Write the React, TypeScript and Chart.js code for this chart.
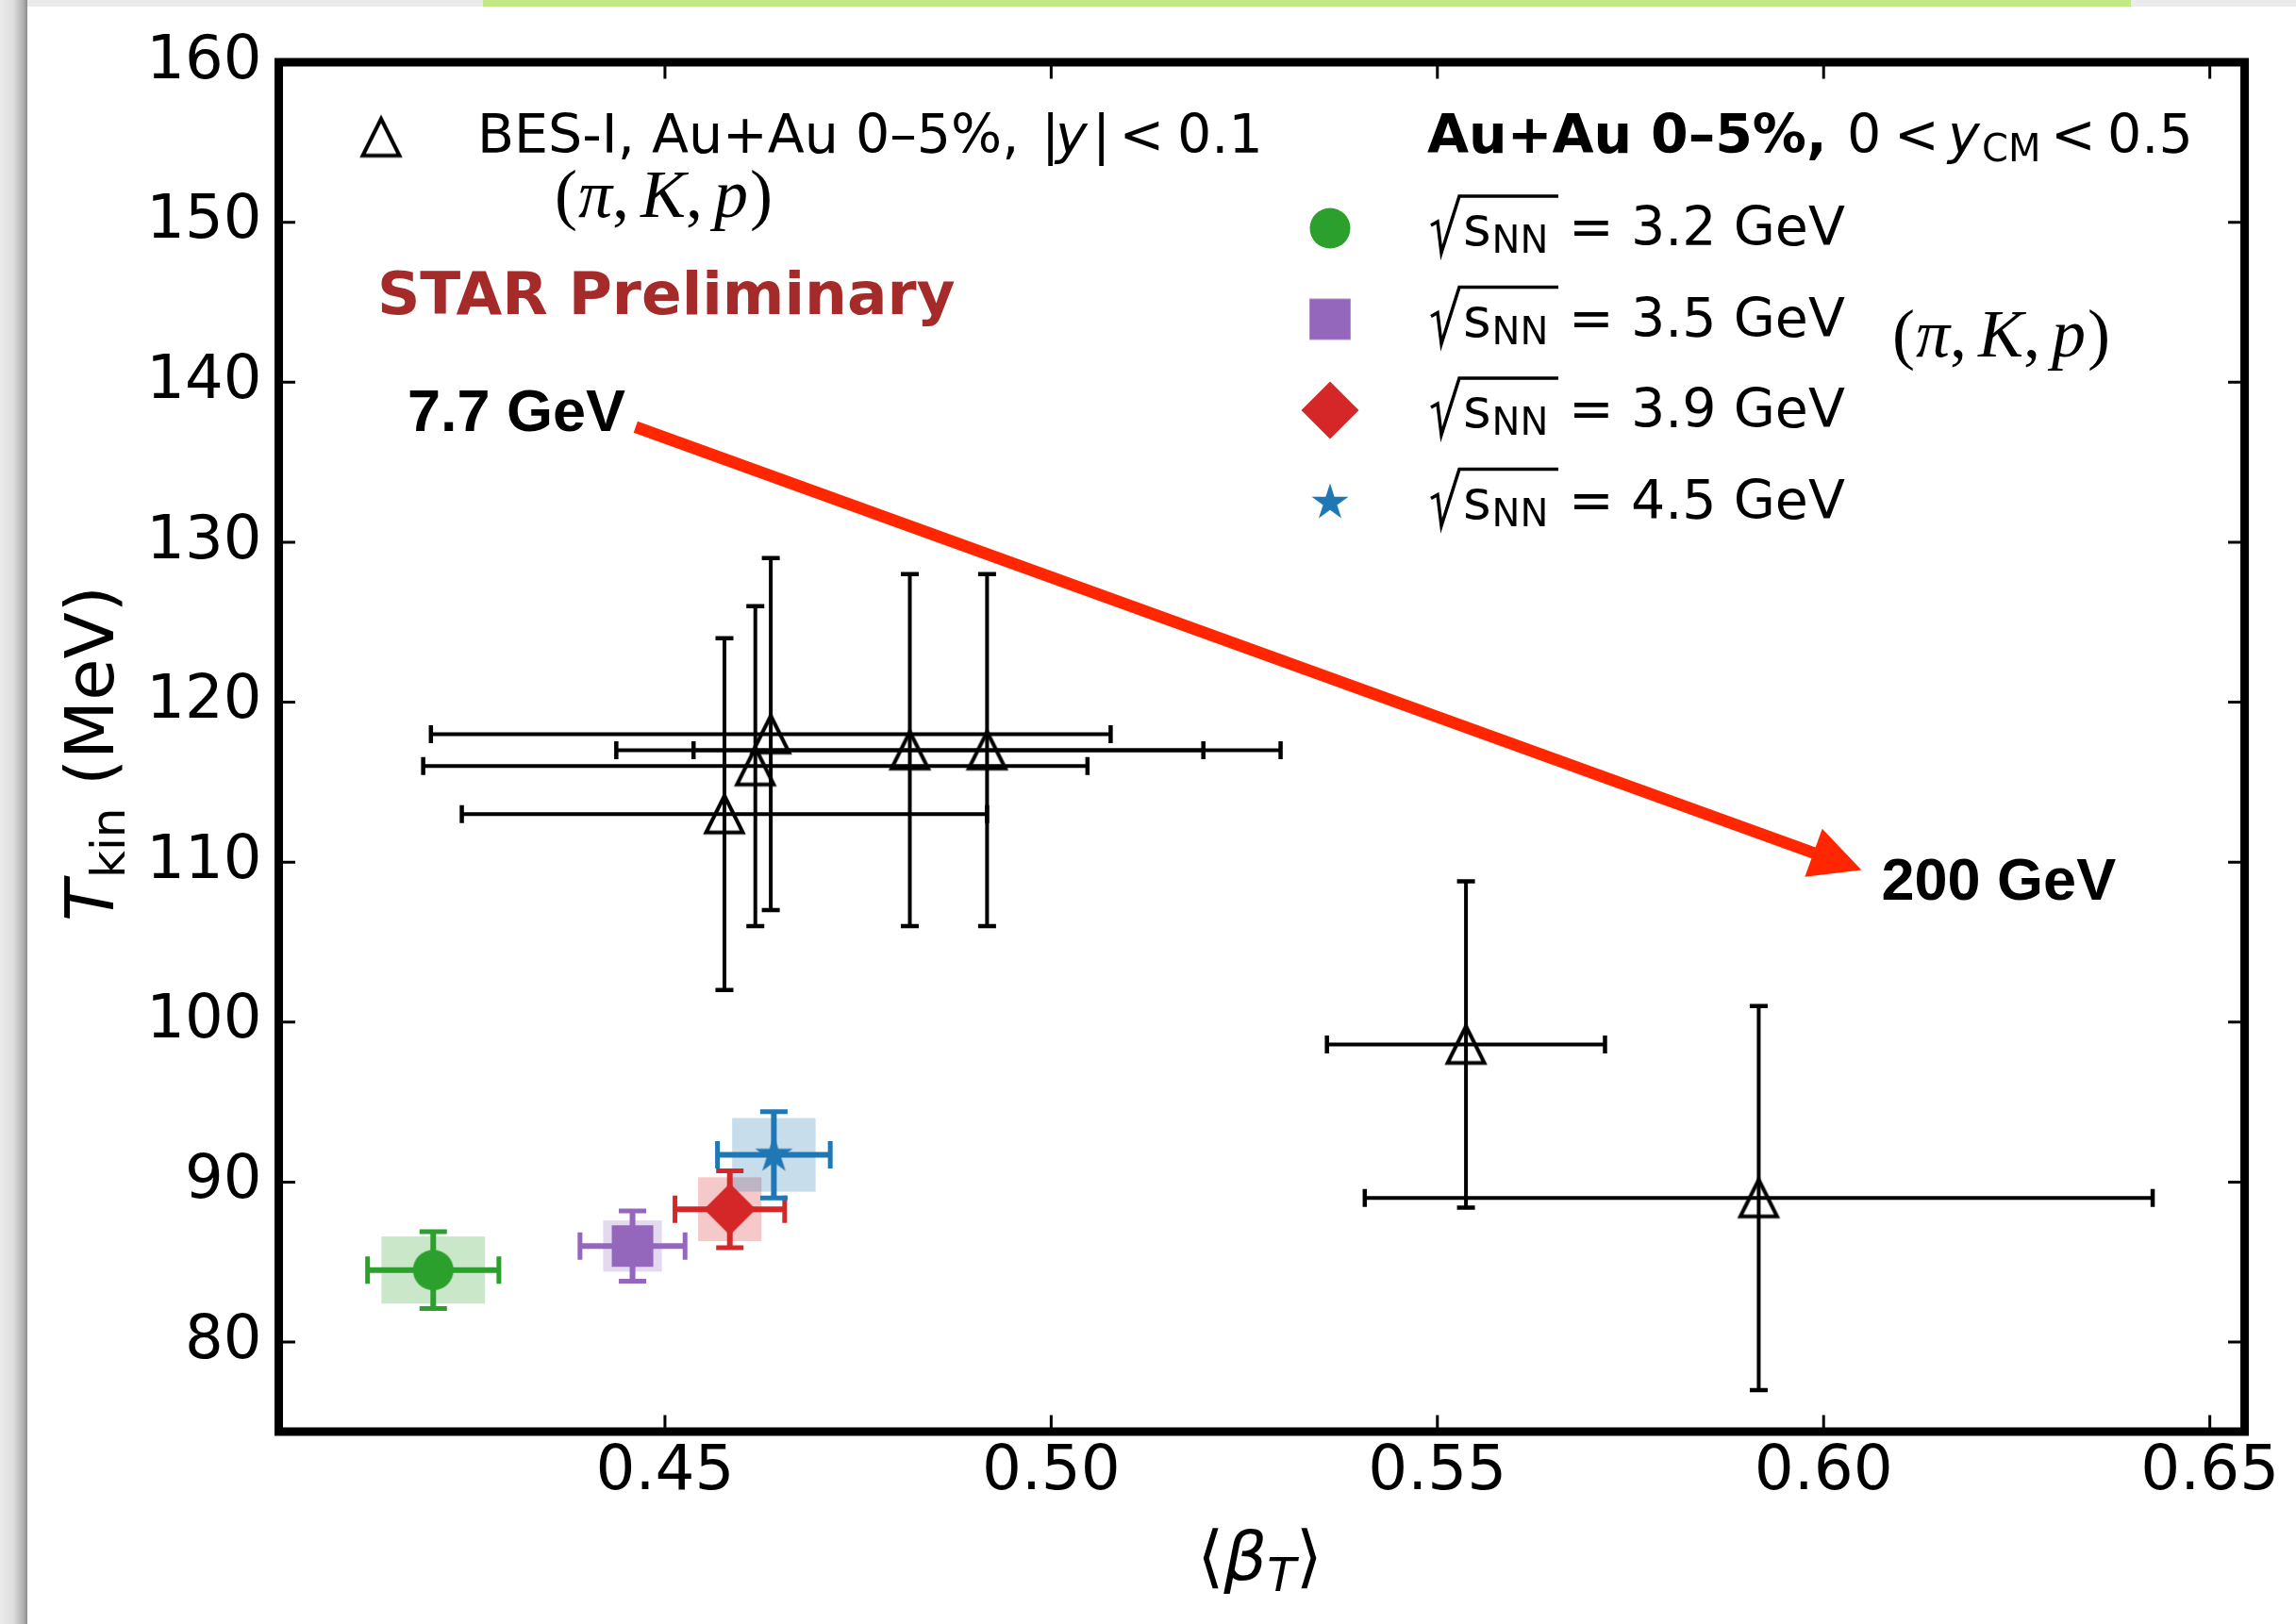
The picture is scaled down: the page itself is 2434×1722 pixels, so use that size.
import React, { useEffect, useRef } from 'react';
import { Chart, registerables } from 'chart.js';

Chart.register(...registerables);

// ---------------- data ----------------
const X_TICKS = [0.45, 0.5, 0.55, 0.6, 0.65];
const Y_TICKS = [80, 90, 100, 110, 120, 130, 140, 150, 160];
const X_MIN = 0.4;
const X_MAX = 0.6545;
const Y_MIN = 74.4;
const Y_MAX = 160;

// BES-I, Au+Au 0-5%, |y|<0.1 (open triangles)
const BES_BETA = [0.4577, 0.4617, 0.4637, 0.4817, 0.4917, 0.5537, 0.5916];
const BES_BETA_ERR = [0.034, 0.043, 0.044, 0.038, 0.038, 0.018, 0.051];
const BES_TKIN = [113.0, 116.0, 118.0, 117.0, 117.0, 98.6, 89.0];
const BES_TKIN_ERR = [11.0, 10.0, 11.0, 11.0, 11.0, 10.2, 12.0];

// FXT Au+Au 0-5%, 0<y_CM<0.5
const FXT_ENERGIES = ['3.2', '3.5', '3.9', '4.5'];
const FXT_BETA = [0.42, 0.4458, 0.4584, 0.4641];
const FXT_BETA_STAT = [0.0085, 0.0068, 0.0071, 0.0073];
const FXT_BETA_SYS = [0.0067, 0.0038, 0.0041, 0.0054];
const FXT_TKIN = [84.5, 86.0, 88.3, 91.7];
const FXT_TKIN_STAT = [2.4, 2.2, 2.4, 2.7];
const FXT_TKIN_SYS = [2.1, 1.6, 2.0, 2.3];

// arrow annotation (data coordinates)
const ARROW_FROM = [0.4462, 137.2];
const ARROW_TO = [0.6049, 109.5];

// ---------------- styles ----------------
const W = 2434;
const H = 1722;
const FXT_COLORS = ['#2ca02c', '#9467bd', '#d62728', '#1f77b4'];
const FXT_SHAPES = ['circle', 'square', 'diamond', 'star'];
const FXT_PLOT_SIZES = [43, 44, 55, 42];
const FXT_LEGEND_SIZES = [43, 43.5, 61, 41];
const SANS = "'DejaVu Sans'";
const SERIF = "'Liberation Serif'";

function rgba(hex: string, a: number) {
  const n = parseInt(hex.slice(1), 16);
  return `rgba(${n >> 16},${(n >> 8) & 255},${n & 255},${a})`;
}

function makeMarker(shape: string, size: number, color: string) {
  let S = Math.ceil(size + 16);
  if (S % 2) S += 1;
  const c = document.createElement('canvas');
  c.width = S;
  c.height = S;
  const g = c.getContext('2d')!;
  const cx = S / 2, cy = S / 2, r = size / 2;
  g.fillStyle = color;
  g.strokeStyle = color;
  g.beginPath();
  if (shape === 'circle') g.arc(cx, cy, r, 0, Math.PI * 2);
  else if (shape === 'square') g.rect(cx - r, cy - r, size, size);
  else if (shape === 'diamond') {
    g.moveTo(cx, cy - r); g.lineTo(cx + r, cy); g.lineTo(cx, cy + r); g.lineTo(cx - r, cy); g.closePath();
  } else if (shape === 'star') {
    for (let k = 0; k < 10; k++) {
      const rr = k % 2 === 0 ? r : r * 0.381966;
      const a = -Math.PI / 2 + (k * Math.PI) / 5;
      const px = cx + rr * Math.cos(a), py = cy + rr * Math.sin(a);
      if (k === 0) g.moveTo(px, py); else g.lineTo(px, py);
    }
    g.closePath();
  } else if (shape === 'triangle') {
    g.moveTo(cx, cy - r); g.lineTo(cx + r, cy + r); g.lineTo(cx - r, cy + r); g.closePath();
  }
  if (shape === 'triangle') {
    g.lineWidth = 4;
    g.lineJoin = 'miter';
    g.stroke();
  } else g.fill();
  return c;
}

function txt(ctx: CanvasRenderingContext2D, s: string, x: number, y: number, font: string, color = '#000') {
  ctx.font = font;
  ctx.fillStyle = color;
  ctx.textAlign = 'left';
  ctx.textBaseline = 'alphabetic';
  ctx.fillText(s, x, y);
}

function drawPiKp(ctx: CanvasRenderingContext2D, x: number, y: number) {
  const up = `72px ${SERIF}`, it = `italic 72px ${SERIF}`;
  const runs: [string, string, number][] = [
    ['(', up, 0], ['\u03c0', it, 1], [',', up, 0], ['K', it, 12], [',', up, 0], ['p', it, 12], [')', up, 2],
  ];
  let cx = x;
  ctx.textAlign = 'left';
  ctx.textBaseline = 'alphabetic';
  ctx.fillStyle = '#000';
  for (const [t, f, gap] of runs) {
    cx += gap;
    ctx.font = f;
    ctx.fillText(t, cx, y);
    cx += ctx.measureText(t).width;
  }
}

function drawErr(
  ctx: CanvasRenderingContext2D, cx: number, cy: number,
  xl: number, xr: number, yt: number, yb: number,
  color: string, lw: number, capLw: number, capHalf: number,
) {
  ctx.strokeStyle = color;
  ctx.lineCap = 'butt';
  ctx.lineWidth = lw;
  ctx.beginPath();
  ctx.moveTo(xl, cy); ctx.lineTo(xr, cy);
  ctx.moveTo(cx, yt); ctx.lineTo(cx, yb);
  ctx.stroke();
  ctx.lineWidth = capLw;
  ctx.beginPath();
  ctx.moveTo(xl, cy - capHalf); ctx.lineTo(xl, cy + capHalf);
  ctx.moveTo(xr, cy - capHalf); ctx.lineTo(xr, cy + capHalf);
  ctx.moveTo(cx - capHalf, yt); ctx.lineTo(cx + capHalf, yt);
  ctx.moveTo(cx - capHalf, yb); ctx.lineTo(cx + capHalf, yb);
  ctx.stroke();
}

const bgPlugin = {
  id: 'pageBackground',
  beforeDraw(chart: any) {
    const ctx = chart.ctx as CanvasRenderingContext2D;
    ctx.save();
    ctx.fillStyle = '#ffffff';
    ctx.fillRect(0, 0, W, H);
    ctx.fillStyle = '#ebebeb';
    ctx.fillRect(0, 0, W, 7);
    ctx.fillStyle = '#c3e986';
    ctx.fillRect(512, 0, 1747, 7);
    const g = ctx.createLinearGradient(0, 0, 29, 0);
    g.addColorStop(0, '#ececec');
    g.addColorStop(0.5, '#dcdcdc');
    g.addColorStop(0.85, '#b0b0b0');
    g.addColorStop(1, '#8c8c8c');
    ctx.fillStyle = g;
    ctx.fillRect(0, 0, 29, H);
    ctx.restore();
  },
};

const errPlugin = {
  id: 'errorBars',
  beforeDatasetsDraw(chart: any) {
    const ctx = chart.ctx as CanvasRenderingContext2D;
    const xs = chart.scales.x, ys = chart.scales.y;
    ctx.save();
    // systematic boxes
    FXT_BETA.forEach((b, i) => {
      const x0 = xs.getPixelForValue(b - FXT_BETA_SYS[i]);
      const x1 = xs.getPixelForValue(b + FXT_BETA_SYS[i]);
      const y0 = ys.getPixelForValue(FXT_TKIN[i] + FXT_TKIN_SYS[i]);
      const y1 = ys.getPixelForValue(FXT_TKIN[i] - FXT_TKIN_SYS[i]);
      ctx.fillStyle = rgba(FXT_COLORS[i], 0.25);
      ctx.fillRect(x0, y0, x1 - x0, y1 - y0);
    });
    // BES-I error bars
    BES_BETA.forEach((b, i) => {
      drawErr(
        ctx, xs.getPixelForValue(b), ys.getPixelForValue(BES_TKIN[i]),
        xs.getPixelForValue(b - BES_BETA_ERR[i]), xs.getPixelForValue(b + BES_BETA_ERR[i]),
        ys.getPixelForValue(BES_TKIN[i] + BES_TKIN_ERR[i]), ys.getPixelForValue(BES_TKIN[i] - BES_TKIN_ERR[i]),
        '#000', 4, 4.5, 9.5,
      );
    });
    // FXT stat error bars
    FXT_BETA.forEach((b, i) => {
      drawErr(
        ctx, xs.getPixelForValue(b), ys.getPixelForValue(FXT_TKIN[i]),
        xs.getPixelForValue(b - FXT_BETA_STAT[i]), xs.getPixelForValue(b + FXT_BETA_STAT[i]),
        ys.getPixelForValue(FXT_TKIN[i] + FXT_TKIN_STAT[i]), ys.getPixelForValue(FXT_TKIN[i] - FXT_TKIN_STAT[i]),
        FXT_COLORS[i], 6, 5, 14.5,
      );
    });
    ctx.restore();
  },
};

let legendMarkers: HTMLCanvasElement[] = [];
let legendTri: HTMLCanvasElement | null = null;

const decorPlugin = {
  id: 'decor',
  afterDraw(chart: any) {
    const ctx = chart.ctx as CanvasRenderingContext2D;
    const ca = chart.chartArea;
    const xs = chart.scales.x, ys = chart.scales.y;
    const ox = ca.left - 295.5, oy = ca.top - 66;
    ctx.save();

    // frame
    ctx.strokeStyle = '#000';
    ctx.lineWidth = 9;
    ctx.lineJoin = 'miter';
    ctx.strokeRect(ca.left, ca.top, ca.right - ca.left, ca.bottom - ca.top);

    // inward ticks
    ctx.lineWidth = 3;
    ctx.beginPath();
    X_TICKS.forEach((v) => {
      const p = xs.getPixelForValue(v);
      ctx.moveTo(p, ca.bottom); ctx.lineTo(p, ca.bottom - 17.5);
      ctx.moveTo(p, ca.top); ctx.lineTo(p, ca.top + 17.5);
    });
    Y_TICKS.forEach((v) => {
      const p = ys.getPixelForValue(v);
      ctx.moveTo(ca.left, p); ctx.lineTo(ca.left + 17.5, p);
      ctx.moveTo(ca.right, p); ctx.lineTo(ca.right - 17.5, p);
    });
    ctx.stroke();

    // arrow
    const ax0 = xs.getPixelForValue(ARROW_FROM[0]), ay0 = ys.getPixelForValue(ARROW_FROM[1]);
    const ax1 = xs.getPixelForValue(ARROW_TO[0]), ay1 = ys.getPixelForValue(ARROW_TO[1]);
    const dx = ax1 - ax0, dy = ay1 - ay0, len = Math.hypot(dx, dy);
    const ux = dx / len, uy = dy / len, nx = -uy, ny = ux;
    const headL = 54, headW = 27;
    const bx = ax1 - ux * headL, by = ay1 - uy * headL;
    ctx.strokeStyle = '#ff2600';
    ctx.fillStyle = '#ff2600';
    ctx.lineWidth = 12.5;
    ctx.lineCap = 'butt';
    ctx.beginPath();
    ctx.moveTo(ax0, ay0);
    ctx.lineTo(bx + ux * 3, by + uy * 3);
    ctx.stroke();
    ctx.beginPath();
    ctx.moveTo(ax1, ay1);
    ctx.lineTo(bx + nx * headW, by + ny * headW);
    ctx.lineTo(bx - nx * headW, by - ny * headW);
    ctx.closePath();
    ctx.fill();

    // energy labels of arrow
    txt(ctx, '7.7 GeV', 432 + ox, 456.7 + oy, `bold 63px 'Liberation Sans'`);
    txt(ctx, '200 GeV', 1994.5 + ox, 954 + oy, `bold 63px 'Liberation Sans'`);

    // STAR Preliminary
    txt(ctx, 'STAR Preliminary', 400 + ox, 333.3 + oy, `bold 63px ${SANS}`, '#a52a2a');

    // BES-I legend
    const fs = 57;
    const reg = `${fs}px ${SANS}`, ital = `italic ${fs}px ${SANS}`, bold = `bold ${fs}px ${SANS}`;
    const sub = `${Math.round(fs * 0.7)}px ${SANS}`;
    if (legendTri) ctx.drawImage(legendTri, 404 + ox - legendTri.width / 2, 145.5 + oy - legendTri.height / 2);
    const b1 = 161.7 + oy;
    txt(ctx, 'BES-I, Au+Au 0\u20135%,', 506 + ox, b1, reg);
    txt(ctx, '|', 1104 + ox, b1, reg);
    txt(ctx, 'y', 1119 + ox, b1, ital);
    txt(ctx, '|', 1158 + ox, b1, reg);
    txt(ctx, '<', 1186.5 + ox, b1, reg);
    txt(ctx, '0.1', 1248 + ox, b1, reg);
    drawPiKp(ctx, 588 + ox, 230 + oy);

    // FXT legend title
    txt(ctx, 'Au+Au 0\u20135%,', 1513 + ox, b1, bold);
    txt(ctx, '0', 1958 + ox, b1, reg);
    txt(ctx, '<', 2008 + ox, b1, reg);
    txt(ctx, 'y', 2065 + ox, b1, ital);
    txt(ctx, 'CM', 2101 + ox, b1 + 9, sub);
    txt(ctx, '<', 2174 + ox, b1, reg);
    txt(ctx, '0.5', 2234 + ox, b1, reg);

    // FXT legend rows
    FXT_ENERGIES.forEach((e, i) => {
      const base = 260 + i * 96.5 + oy;
      const m = legendMarkers[i];
      const my = base - (FXT_SHAPES[i] === 'star' ? 16.5 : 18);
      if (m) ctx.drawImage(m, 1410 + ox - m.width / 2, my - m.height / 2);
      const x0 = 1516 + ox;
      // radical sign
      ctx.strokeStyle = '#000';
      ctx.lineWidth = 3.5;
      ctx.lineJoin = 'miter';
      ctx.beginPath();
      ctx.moveTo(x0 + 1, base - 21);
      ctx.lineTo(x0 + 8, base - 25);
      ctx.lineTo(x0 + 12, base + 8);
      ctx.lineTo(x0 + 31, base - 52);
      ctx.lineTo(x0 + 136, base - 52);
      ctx.stroke();
      txt(ctx, 's', x0 + 35, base, reg);
      txt(ctx, 'NN', x0 + 65.5, base + 8, sub);
      txt(ctx, `= ${e} GeV`, x0 + 147, base, reg);
    });
    drawPiKp(ctx, 2006 + ox, 378.3 + oy);

    // y axis title
    ctx.save();
    ctx.translate(120 + ox, 977 + oy);
    ctx.rotate(-Math.PI / 2);
    txt(ctx, 'T', 0, 0, `italic 72px ${SANS}`);
    txt(ctx, 'kin', 46, 12, `50px ${SANS}`);
    txt(ctx, '(MeV)', 144, 0, `72px ${SANS}`);
    ctx.restore();

    // x axis title
    const runs: [string, string, number][] = [
      ['\u27e8', `72px ${SANS}`, 0],
      ['\u03b2', `italic 72px ${SANS}`, 0],
      ['T', `italic 50px ${SANS}`, 12],
      ['\u27e9', `72px ${SANS}`, 0],
    ];
    let total = 0;
    runs.forEach(([t, f]) => { ctx.font = f; total += ctx.measureText(t).width; });
    let cx = (ca.left + ca.right) / 2 - 2 - total / 2;
    runs.forEach(([t, f, d]) => {
      txt(ctx, t, cx, 1675 + oy + d, f);
      ctx.font = f;
      cx += ctx.measureText(t).width;
    });

    ctx.restore();
  },
};

export default function App() {
  const ref = useRef<HTMLCanvasElement>(null);

  useEffect(() => {
    const canvas = ref.current;
    if (!canvas) return;
    const tri = makeMarker('triangle', 39, '#000');
    legendTri = tri;
    const plotMarkers = FXT_SHAPES.map((s, i) => makeMarker(s, FXT_PLOT_SIZES[i], FXT_COLORS[i]));
    legendMarkers = FXT_SHAPES.map((s, i) => makeMarker(s, FXT_LEGEND_SIZES[i], FXT_COLORS[i]));

    const datasets: any[] = [
      {
        label: 'BES-I, Au+Au 0-5%, |y|<0.1',
        data: BES_BETA.map((b, i) => ({ x: b, y: BES_TKIN[i] })),
        pointStyle: tri,
        pointRadius: 20,
        pointHoverRadius: 20,
      },
      ...FXT_BETA.map((b, i) => ({
        label: `sqrt(sNN) = ${FXT_ENERGIES[i]} GeV`,
        data: [{ x: b, y: FXT_TKIN[i] }],
        pointStyle: plotMarkers[i],
        pointRadius: 20,
        pointHoverRadius: 20,
      })),
    ];

    const chart = new Chart(canvas, {
      type: 'scatter',
      data: { datasets },
      options: {
        responsive: false,
        maintainAspectRatio: false,
        animation: false,
        devicePixelRatio: 1,
        events: [],
        layout: { padding: { left: 0, top: 66, right: W - 2379.5, bottom: 0 } },
        plugins: {
          legend: { display: false },
          tooltip: { enabled: false },
          title: { display: false },
        },
        scales: {
          x: {
            type: 'linear',
            position: 'bottom',
            min: X_MIN,
            max: X_MAX,
            bounds: 'data',
            grid: { display: false, drawTicks: false },
            border: { display: false },
            afterBuildTicks: (s: any) => { s.ticks = X_TICKS.map((v) => ({ value: v })); },
            afterFit: (s: any) => { s.height = H - 1518; },
            ticks: {
              autoSkip: false,
              maxRotation: 0,
              minRotation: 0,
              padding: 4,
              color: '#000',
              font: { family: SANS, size: 66 },
              callback: (v: any) => Number(v).toFixed(2),
            },
          },
          y: {
            type: 'linear',
            position: 'left',
            min: Y_MIN,
            max: Y_MAX,
            bounds: 'data',
            grid: { display: false, drawTicks: false },
            border: { display: false },
            afterBuildTicks: (s: any) => { s.ticks = Y_TICKS.map((v) => ({ value: v })); },
            afterFit: (s: any) => { s.width = 295.5; },
            ticks: {
              autoSkip: false,
              padding: 18,
              color: '#000',
              font: { family: SANS, size: 64 },
              callback: (v: any) => String(Math.round(Number(v))),
            },
          },
        },
      } as any,
      plugins: [bgPlugin, errPlugin, decorPlugin],
    });
    return () => chart.destroy();
  }, []);

  return (
    <div style={{ position: 'fixed', left: 0, top: 0, width: W, height: H, overflow: 'hidden' }}>
      <canvas ref={ref} width={W} height={H} style={{ width: W, height: H, display: 'block' }} />
    </div>
  );
}
